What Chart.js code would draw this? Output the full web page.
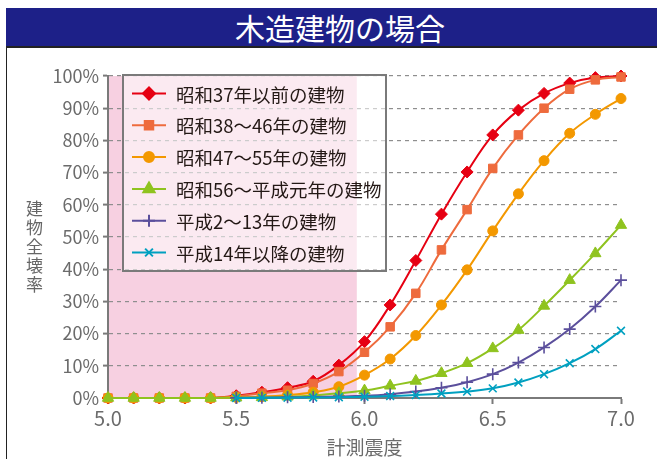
<!DOCTYPE html>
<html lang="ja">
<head>
<meta charset="utf-8">
<script src="https://cdn.jsdelivr.net/npm/chart.js@4.4.1/dist/chart.umd.min.js"></script>
<style>
  html, body { margin: 0; padding: 0; background: #fff; }
  #wrap { position: relative; width: 657px; height: 459px; overflow: hidden;
          font-family: "Noto Sans CJK JP", "Noto Sans", sans-serif; }
  #frame { position: absolute; left: 6px; top: 8px; width: 700px; height: 480px;
           border: 1.5px solid #222; box-sizing: border-box; }
  #title { position: absolute; left: 6px; top: 8px; width: 668px; height: 38px;
           background: #1d2088; color: #fff; font-size: 30px; line-height: 38px;
           text-align: center; border-bottom: 2px solid #222; }
  #ytitle { position: absolute; left: 24px; top: 200px; writing-mode: vertical-rl;
            text-orientation: upright; font-size: 17px; line-height: 20px;
            color: #666; letter-spacing: 2px; }
  #chart { position: absolute; left: 0; top: 0; }
</style>
</head>
<body>
<div id="wrap">
  <div id="frame"></div>
  <div id="title">木造建物の場合</div>
  <canvas id="chart" width="657" height="459"></canvas>
  <div id="ytitle">建物全壊率</div>
</div>
<script>
// 計測震度 (5.0〜7.0, 0.1刻み)
const intensity = [5.0, 5.1, 5.2, 5.3, 5.4, 5.5, 5.6, 5.7, 5.8, 5.9, 6.0,
                   6.1, 6.2, 6.3, 6.4, 6.5, 6.6, 6.7, 6.8, 6.9, 7.0];

// 建築年代別の全壊率 (%)
const rateS37 =   [0, 0, 0, 0, 0, 0.7, 1.8, 3.2, 5.2, 10.2, 17.5, 28.9, 42.7, 57.1, 70.2, 81.7, 89.4, 94.6, 97.8, 99.5, 100];
const rateS38 =   [0, 0, 0, 0, 0, 0.5, 1.5, 2.4, 4.5, 8.2, 14.2, 22.1, 32.5, 46.0, 58.5, 71.3, 81.7, 90.0, 95.9, 98.8, 99.7];
const rateS47 =   [0, 0, 0, 0, 0, 0.2, 0.4, 0.9, 1.8, 3.5, 7.1, 12.1, 19.4, 28.9, 39.8, 51.9, 63.4, 73.7, 82.2, 88.1, 93.0];
const rateS56 =   [0, 0, 0, 0, 0, 0.1, 0.2, 0.4, 0.8, 1.5, 2.3, 3.8, 5.3, 7.7, 10.8, 15.4, 21.1, 28.6, 36.6, 44.9, 53.7];
const rateH2 =    [null, null, null, null, null, 0.05, 0.1, 0.2, 0.3, 0.45, 0.7, 1.2, 2.0, 3.2, 4.9, 7.4, 11.0, 15.7, 21.4, 28.4, 36.6];
const rateH14 =   [null, null, null, null, null, 0.02, 0.05, 0.1, 0.15, 0.25, 0.4, 0.6, 0.9, 1.4, 2.0, 3.0, 4.8, 7.4, 10.8, 15.2, 20.9];

const seriesNames = ['昭和37年以前の建物', '昭和38〜46年の建物', '昭和47〜55年の建物',
                     '昭和56〜平成元年の建物', '平成2〜13年の建物', '平成14年以降の建物'];
const seriesRates = [rateS37, rateS38, rateS47, rateS56, rateH2, rateH14];
const seriesColors = ['#e60012', '#ee6b3d', '#f39800', '#8fc31f', '#5b4f9c', '#00a0c0'];
const seriesMarkers = ['rectRot', 'rect', 'circle', 'triangle', 'cross', 'crossRot'];
const markerRadius = [6, 6, 5, 6.5, 6, 5.5];

// 網掛け範囲 (計測震度)
const shadeFrom = 5.0;
const shadeTo = 5.97;

const xTicks = [5.0, 5.5, 6.0, 6.5, 7.0];

const FONT = '"Noto Sans CJK JP", "Noto Sans", sans-serif';

const datasets = seriesNames.map((name, i) => ({
  label: name,
  data: intensity.map((x, k) => ({ x: x, y: seriesRates[i][k] })),
  borderColor: seriesColors[i],
  backgroundColor: seriesColors[i],
  borderWidth: 2,
  pointStyle: seriesMarkers[i],
  pointRadius: markerRadius[i],
  pointBorderWidth: (seriesMarkers[i] === 'cross' || seriesMarkers[i] === 'crossRot') ? 1.6 : 1,
  pointBorderColor: seriesColors[i],
  pointBackgroundColor: seriesColors[i],
  tension: 0.4,
  spanGaps: false,
  clip: false,
  order: seriesNames.length - i
}));

// 網掛け帯
const shadePlugin = {
  id: 'shade',
  beforeDraw(chart) {
    const { ctx, chartArea, scales } = chart;
    const x0 = scales.x.getPixelForValue(shadeFrom);
    const x1 = scales.x.getPixelForValue(shadeTo);
    ctx.save();
    ctx.fillStyle = '#f7d0e1';
    ctx.fillRect(x0, chartArea.top, x1 - x0, chartArea.bottom - chartArea.top);
    ctx.restore();
  }
};

// 凡例 (グラフ内の枠付き)
const boxLegendPlugin = {
  id: 'boxLegend',
  afterDraw(chart) {
    const { ctx, chartArea } = chart;
    const left = chartArea.left + 15, top = chartArea.top - 1;
    const w = 263, h = 196;
    ctx.save();
    ctx.fillStyle = 'rgba(255,255,255,0.55)';
    ctx.fillRect(left, top, w, h);
    ctx.lineWidth = 2;
    ctx.strokeStyle = '#7a7a7a';
    ctx.strokeRect(left, top, w, h);
    const rowH = 31.8;
    chart.data.datasets.forEach((ds, i) => {
      const y = top + 18.5 + i * rowH;
      ctx.strokeStyle = ds.borderColor;
      ctx.lineWidth = 2;
      ctx.beginPath();
      ctx.moveTo(left + 9, y);
      ctx.lineTo(left + 43, y);
      ctx.stroke();
      ctx.fillStyle = ds.backgroundColor;
      Chart.helpers.drawPoint(ctx, {
        pointStyle: ds.pointStyle,
        radius: ds.pointRadius,
        rotation: 0,
        borderWidth: ds.pointBorderWidth
      }, left + 26, y);
      ctx.fillStyle = '#231815';
      ctx.font = '18.5px ' + FONT;
      ctx.textBaseline = 'middle';
      ctx.textAlign = 'left';
      ctx.fillText(ds.label, left + 53, y + 1);
    });
    ctx.restore();
  }
};

new Chart(document.getElementById('chart'), {
  type: 'line',
  data: { datasets: datasets },
  plugins: [shadePlugin, boxLegendPlugin],
  options: {
    responsive: false,
    animation: false,
    events: [],
    layout: { padding: { left: 0, top: 76, right: 36, bottom: 0 } },
    plugins: { legend: { display: false }, tooltip: { enabled: false } },
    scales: {
      x: {
        type: 'linear',
        min: 5.0, max: 7.0,
        afterFit(scale) { scale.height = 61; },
        afterBuildTicks(scale) { scale.ticks = xTicks.map(v => ({ value: v })); },
        ticks: {
          color: '#6b6b6b',
          font: { family: FONT, size: 20 },
          padding: 2,
          maxRotation: 0,
          callback: v => Number(v).toFixed(1)
        },
        grid: { drawOnChartArea: false, drawTicks: true, tickLength: 6, tickColor: '#7a7a7a', tickWidth: 2 },
        border: { display: true, color: '#7a7a7a', width: 2 },
        title: {
          display: true, text: '計測震度', color: '#6b6b6b',
          font: { family: FONT, size: 19 }, padding: { top: 0, bottom: 0 }
        }
      },
      y: {
        min: 0, max: 100,
        afterFit(scale) { scale.width = 108; },
        ticks: {
          stepSize: 10,
          color: '#6b6b6b',
          font: { family: FONT, size: 18 },
          padding: 4,
          callback: v => v + '%'
        },
        grid: {
          color: '#8e8e8e', lineWidth: 1.2,
          drawTicks: true, tickLength: 5, tickColor: '#7a7a7a', tickWidth: 2, tickBorderDash: []
        },
        border: { display: true, color: '#7a7a7a', width: 2, dash: [4, 4] }
      }
    }
  }
});
</script>
</body>
</html>
